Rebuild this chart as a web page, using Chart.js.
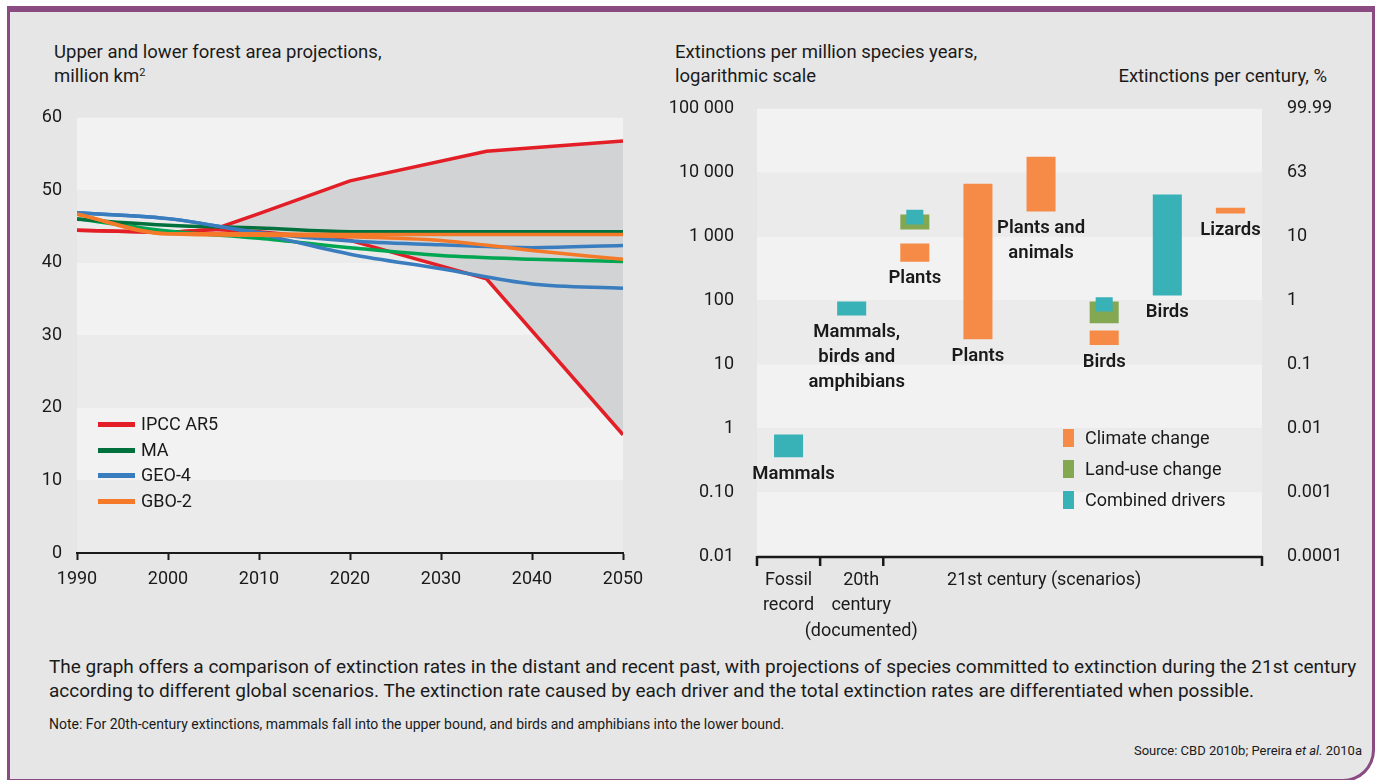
<!DOCTYPE html>
<html>
<head>
<meta charset="utf-8">
<script src="https://cdn.jsdelivr.net/npm/chart.js@4.4.1/dist/chart.umd.min.js"></script>
<style>
  body { margin: 0; width: 1375px; height: 780px; background: #fff; overflow: hidden; position: relative;
         font-family: Roboto, 'Open Sans', sans-serif; color: #1a1a1a; }
  .frame { position: absolute; left: 7px; top: 6px; right: 0; bottom: -2px; background: #e6e6e6; box-sizing: border-box;
           border: 3px solid #8a4a82; border-top-width: 6px; border-bottom-right-radius: 32px; }
  .t { position: absolute; font-size: 18.5px; line-height: 24px; white-space: nowrap; }
  .t sup { font-size: 11px; vertical-align: 6px; line-height: 0; }
  .cap { font-size: 19px; }
  .note { font-size: 14px; line-height: 16px; }
  .src { font-size: 13px; line-height: 16px; }
  canvas { position: absolute; }
  .lg { position: absolute; font-size: 18px; line-height: 24px; white-space: nowrap; }
  .lg i { position: absolute; display: block; }
</style>
</head>
<body>
<div class="frame"></div>

<div class="t" style="left:54px; top:40px;">Upper and lower forest area projections,<br>million km<sup>2</sup></div>
<div class="t" style="left:675px; top:40px;">Extinctions per million species years,<br>logarithmic scale</div>
<div class="t" style="right:48px; top:64px;">Extinctions per century, %</div>

<canvas id="chart-forest" width="640" height="510" style="left:20px; top:100px;"></canvas>
<canvas id="chart-extinct" width="710" height="568" style="left:660px; top:81px;"></canvas>

<div id="legend-forest"></div>
<div id="legend-extinct"></div>

<div class="t cap" style="left:49px; top:655px;">The graph offers a comparison of extinction rates in the distant and recent past, with projections of species committed to extinction during the 21st century<br>according to different global scenarios. The extinction rate caused by each driver and the total extinction rates are differentiated when possible.</div>
<div class="t note" style="left:49px; top:716px;">Note: For 20th-century extinctions, mammals fall into the upper bound, and birds and amphibians into the lower bound.</div>
<div class="t src" style="right:13px; top:743px;">Source: CBD 2010b; Pereira <i>et al.</i> 2010a</div>

<script>
// ---- left chart data (million km2) ----
const years = [1990, 2000, 2010, 2020, 2030, 2040, 2050];
const ipccYears = [1990, 2000, 2005, 2010, 2020, 2035, 2050];

const ipccUpper = [44.5, 44.2, 44.6, 46.8, 51.3, 55.4, 56.8];
const ipccLower = [44.5, 44.2, 44.6, 44.3, 43.1, 37.8, 16.3];
const maUpper   = [46.0, 45.2, 44.8, 44.3, 44.3, 44.3, 44.3];
const maLower   = [46.1, 44.4, 43.4, 42.1, 41.0, 40.5, 40.2];
const geoUpper  = [46.9, 46.1, 44.2, 43.0, 42.5, 42.1, 42.4];
const geoLower  = [46.9, 46.1, 44.0, 41.2, 39.2, 37.1, 36.5];
const gboUpper  = [46.7, 44.0, 44.0, 43.9, 43.9, 43.9, 43.9];
const gboLower  = [46.7, 44.0, 43.8, 43.6, 43.1, 41.7, 40.5];

const forestTicks = [0, 10, 20, 30, 40, 50, 60];

// ---- right chart data (extinctions per million species years) ----
const slots = ['Fossil record', '20th century', 'Plants', 'Plants', 'Plants and animals', 'Birds', 'Birds', 'Lizards'];
const climateChange  = [null, null, [405, 780], [24.6, 6740], [2460, 17800], [20, 34], null, [2290, 2830]];
const landUseChange  = [null, null, [1290, 2210], null, null, [44, 96], null, null];
const combinedWide   = [[0.35, 0.8], [58, 96], null, null, null, null, [120, 4570], null];
const combinedNarrow = [null, null, [1540, 2630], null, null, [67, 112], null, null];

const barLabels = [['Mammals'], ['Mammals,', 'birds and', 'amphibians'], ['Plants'], ['Plants'],
                   ['Plants and', 'animals'], ['Birds'], ['Birds'], ['Lizards']];

const decades = [0.01, 0.1, 1, 10, 100, 1000, 10000, 100000];
const leftTickLabels  = ['0.01', '0.10', '1', '10', '100', '1 000', '10 000', '100 000'];
const rightTickLabels = ['0.0001', '0.001', '0.01', '0.1', '1', '10', '63', '99.99'];

const periodLabels = [['Fossil', 'record'], ['20th', 'century', '(documented)'], ['21st century (scenarios)']];

const COLORS = {
  red: '#e31e26', darkGreen: '#00703c', green: '#00a651', blue: '#3a7dbf', orange: '#f47a2a',
  area: '#d1d3d5', bandLight: '#f2f2f2', bandDark: '#ebebeb',
  climate: '#f68b47', landUse: '#84a752', combined: '#38b1b7', ink: '#1a1a1a'
};

Chart.defaults.font.family = "Roboto, 'Open Sans', sans-serif";
Chart.defaults.font.size = 18;
Chart.defaults.color = COLORS.ink;

// alternating horizontal bands behind the plot
const bandPlugin = {
  id: 'bands',
  beforeDraw(chart, args, opts) {
    const { ctx, chartArea } = chart;
    const y = chart.scales.y;
    const vals = opts.values;
    ctx.save();
    for (let i = vals.length - 1; i > 0; i--) {
      const top = y.getPixelForValue(vals[i]);
      const bot = y.getPixelForValue(vals[i - 1]);
      ctx.fillStyle = (vals.length - 1 - i) % 2 === 0 ? COLORS.bandLight : COLORS.bandDark;
      ctx.fillRect(chartArea.left, top, chartArea.right - chartArea.left, bot - top);
    }
    ctx.restore();
  }
};

function pts(xs, ys) { return xs.map((x, i) => ({ x, y: ys[i] })); }

function line(data, color, extra) {
  return Object.assign({
    data, borderColor: color, borderWidth: 3.5, pointRadius: 0, fill: false,
    cubicInterpolationMode: 'monotone'
  }, extra || {});
}

// 1. Forest area projections
new Chart(document.getElementById('chart-forest'), {
  type: 'line',
  data: {
    datasets: [
      line(pts(years, gboUpper), COLORS.orange),
      line(pts(years, gboLower), COLORS.orange),
      line(pts(years, geoUpper), COLORS.blue),
      line(pts(years, geoLower), COLORS.blue),
      line(pts(years, maUpper), COLORS.darkGreen),
      line(pts(years, maLower), COLORS.green),
      line(pts(ipccYears, ipccUpper), COLORS.red, { cubicInterpolationMode: 'default', tension: 0 }),
      line(pts(ipccYears, ipccLower), COLORS.red, { cubicInterpolationMode: 'default', tension: 0, fill: '-1', backgroundColor: COLORS.area }),
    ]
  },
  options: {
    responsive: false,
    animation: false,
    layout: { padding: { top: 17, right: 37, left: 0, bottom: 0 } },
    plugins: {
      legend: { display: false },
      tooltip: { enabled: false },
      filler: { drawTime: 'beforeDatasetsDraw' },
      bands: { values: forestTicks }
    },
    scales: {
      x: {
        type: 'linear', min: 1990, max: 2050,
        ticks: { stepSize: 10, padding: 9, callback: v => String(v) },
        grid: { display: true, drawOnChartArea: false, tickLength: 7, tickWidth: 2, tickColor: COLORS.ink },
        border: { display: true, color: COLORS.ink, width: 2 },
        afterFit: s => { s.height = 57; }
      },
      y: {
        min: 0, max: 60,
        afterBuildTicks: s => { s.ticks = forestTicks.map(v => ({ value: v })); },
        ticks: { padding: 7 },
        grid: { display: false },
        border: { display: false },
        afterFit: s => { s.width = 57; }
      }
    }
  },
  plugins: [bandPlugin]
});

// bar labels under each slot, and the bracket axis with period names
const extinctDecor = {
  id: 'extinctDecor',
  afterDatasetsDraw(chart) {
    const { ctx } = chart;
    const x = chart.scales.x, y = chart.scales.y;
    ctx.save();
    ctx.fillStyle = COLORS.ink;
    ctx.font = "600 18.5px Roboto, 'Open Sans', sans-serif";
    ctx.textAlign = 'center';
    ctx.textBaseline = 'middle';
    barLabels.forEach((lines, i) => {
      const lows = [climateChange[i], landUseChange[i], combinedWide[i], combinedNarrow[i]]
        .filter(Boolean).map(r => r[0]);
      const base = y.getPixelForValue(Math.min(...lows));
      const shift = i < 2 ? 5 : 0;
      lines.forEach((txt, k) => ctx.fillText(txt, x.getPixelForValue(i) + shift, base + 17 + k * 25));
    });
    ctx.restore();
  },
  afterDraw(chart) {
    const { ctx, chartArea } = chart;
    const x = chart.scales.x;
    const slotW = x.getPixelForValue(1) - x.getPixelForValue(0);
    const edge = b => x.getPixelForValue(0) - slotW / 2 + b * slotW;
    const yb = chartArea.bottom + 1;
    ctx.save();
    ctx.strokeStyle = COLORS.ink;
    ctx.lineWidth = 2.5;
    ctx.beginPath();
    ctx.moveTo(edge(0), yb);
    ctx.lineTo(edge(slots.length), yb);
    [0, 1, 2, slots.length].forEach(b => { ctx.moveTo(edge(b), yb - 1); ctx.lineTo(edge(b), yb + 9); });
    ctx.stroke();
    ctx.fillStyle = COLORS.ink;
    ctx.font = "18px Roboto, 'Open Sans', sans-serif";
    ctx.textAlign = 'center';
    ctx.textBaseline = 'middle';
    const centers = [edge(0.5), edge(1.65), edge(4.55)];
    periodLabels.forEach((lines, i) => {
      lines.forEach((txt, k) => ctx.fillText(txt, centers[i], yb + 23 + k * 25.5));
    });
    ctx.restore();
  }
};

function logAxis(position, labels, width, padding) {
  return {
    type: 'logarithmic', position, min: 0.01, max: 100000,
    afterBuildTicks: s => { s.ticks = decades.map(v => ({ value: v })); },
    ticks: { padding, callback: (v, i) => labels[i] },
    grid: { display: false },
    border: { display: false },
    afterFit: s => { s.width = width; }
  };
}

// 2. Extinction rates, floating bars on a log scale
new Chart(document.getElementById('chart-extinct'), {
  type: 'bar',
  data: {
    labels: slots,
    datasets: [
      { label: 'Combined drivers', data: combinedNarrow, backgroundColor: COLORS.combined, barPercentage: 0.27 },
      { label: 'Climate change', data: climateChange, backgroundColor: COLORS.climate },
      { label: 'Land-use change', data: landUseChange, backgroundColor: COLORS.landUse },
      { label: 'Combined drivers', data: combinedWide, backgroundColor: COLORS.combined },
    ]
  },
  options: {
    responsive: false,
    animation: false,
    layout: { padding: { top: 9, bottom: 93, left: 0, right: 0 } },
    datasets: { bar: { grouped: false, barPercentage: 0.46, categoryPercentage: 1, borderWidth: 0 } },
    plugins: {
      legend: { display: false },
      tooltip: { enabled: false },
      bands: { values: decades }
    },
    scales: {
      x: { type: 'category', display: false },
      y: logAxis('left', leftTickLabels, 97, 15),
      y2: logAxis('right', rightTickLabels, 108, 17)
    }
  },
  plugins: [bandPlugin, extinctDecor]
});

// legends
const forestLegend = [['IPCC AR5', COLORS.red], ['MA', COLORS.darkGreen], ['GEO-4', COLORS.blue], ['GBO-2', COLORS.orange]];
document.getElementById('legend-forest').innerHTML = forestLegend.map((d, i) =>
  `<div class="lg" style="left:98px; top:${412 + i * 25.7}px;"><i style="left:0; top:10px; width:37px; height:5px; background:${d[1]}"></i><span style="margin-left:43px">${d[0]}</span></div>`
).join('');

const extinctLegend = [['Climate change', COLORS.climate], ['Land-use change', COLORS.landUse], ['Combined drivers', COLORS.combined]];
document.getElementById('legend-extinct').innerHTML = extinctLegend.map((d, i) =>
  `<div class="lg" style="left:1063px; top:${426 + i * 31}px;"><i style="left:0; top:3px; width:11px; height:18px; background:${d[1]}"></i><span style="margin-left:22px">${d[0]}</span></div>`
).join('');
</script>
</body>
</html>
